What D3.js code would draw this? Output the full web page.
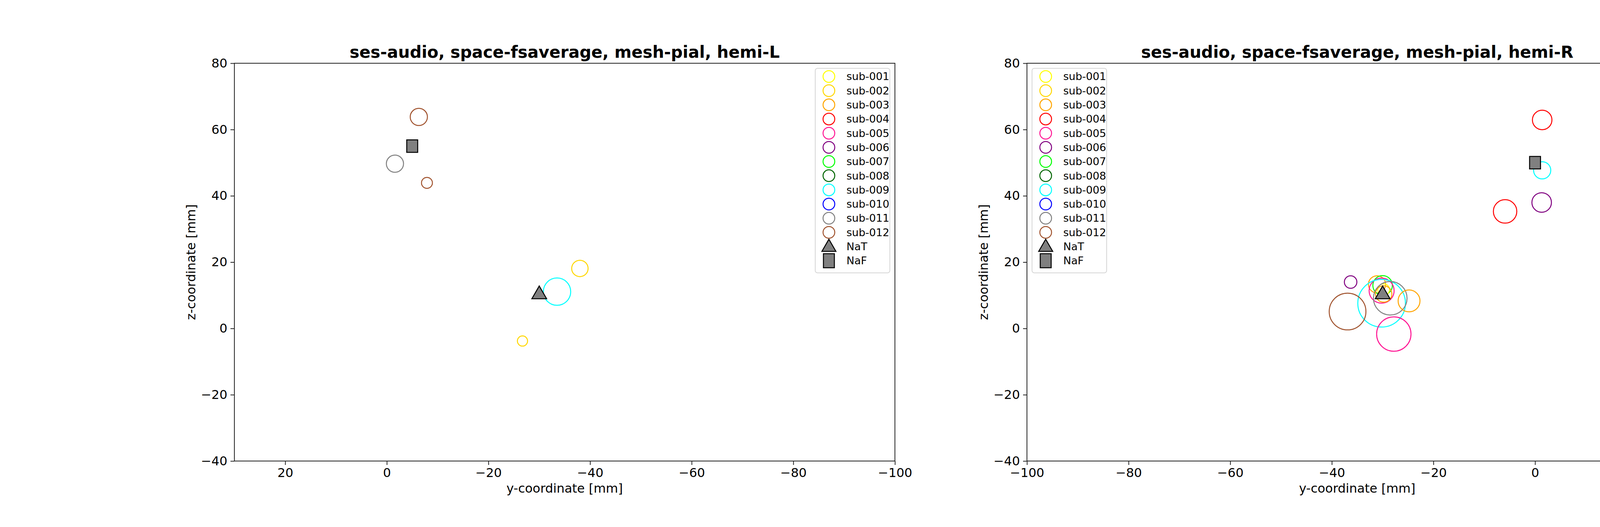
<!DOCTYPE html>
<html>
<head>
<meta charset="utf-8">
<script src="https://cdn.jsdelivr.net/npm/d3@7"></script>
<style>
  body { margin: 0; background: #fff; }
  text { font-family: "DejaVu Sans", sans-serif; }
</style>
</head>
<body>
<svg id="chart" width="4800" height="1350"></svg>
<script>
const subjects = ["sub-001", "sub-002", "sub-003", "sub-004", "sub-005", "sub-006",
                  "sub-007", "sub-008", "sub-009", "sub-010", "sub-011", "sub-012"];
const subjectColors = ["#ffff00", "#ffd700", "#ffa500", "#ff0000", "#ff1493", "#800080",
                       "#00ff00", "#006400", "#00ffff", "#0000ff", "#808080", "#a0522d"];

// left hemisphere: [subject, y, z, radius px]
const pointsL = [
  ["sub-012", -6.3, 63.8, 22],
  ["sub-011", -1.6, 49.7, 22],
  ["sub-012", -7.9, 43.9, 14],
  ["sub-002", -38.0, 18.1, 21],
  ["sub-009", -33.5, 11.1, 35],
  ["sub-002", -26.7, -3.8, 13]
];
// right hemisphere
const pointsR = [
  ["sub-004", 1.4, 62.9, 25],
  ["sub-009", 1.4, 47.7, 22],
  ["sub-006", 1.3, 38.0, 25],
  ["sub-004", -5.9, 35.3, 30],
  ["sub-006", -36.3, 14.0, 16],
  ["sub-003", -31.1, 13.3, 22],
  ["sub-007", -30.0, 13.0, 25],
  ["sub-005", -30.2, 11.4, 32],
  ["sub-001", -29.8, 11.7, 15],
  ["sub-003", -29.8, 10.4, 21],
  ["sub-009", -30.2, 7.6, 61],
  ["sub-011", -28.5, 9.1, 43],
  ["sub-003", -24.8, 8.3, 28],
  ["sub-012", -36.9, 5.1, 47],
  ["sub-005", -27.8, -1.7, 44]
];
const natL = [-30, 10], nafL = [-5, 55];
const natR = [-30, 10], nafR = [0, 50];

const xTicksL = [20, 0, -20, -40, -60, -80, -100];
const xTicksR = [-100, -80, -60, -40, -20, 0, 20];
const zTicks = [-40, -20, 0, 20, 40, 60, 80];

const svg = d3.select("#chart");
const plotTop = 162, plotBottom = 1181;
const color = d3.scaleOrdinal(subjects, subjectColors);
const fmt = d => d < 0 ? "\u2212" + Math.abs(d) : "" + d;

function panel(x0, x1, domain, xTicks, points, nat, naf, title, legendX) {
  const x = d3.scaleLinear().domain(domain).range([x0, x1]);
  const y = d3.scaleLinear().domain([-40, 80]).range([plotBottom, plotTop]);
  const g = svg.append("g");

  const xa = g.append("g").attr("transform", `translate(0,${plotBottom})`)
    .call(d3.axisBottom(x).tickValues(xTicks).tickFormat(fmt).tickSize(10).tickPadding(8));
  const ya = g.append("g").attr("transform", `translate(${x0},0)`)
    .call(d3.axisLeft(y).tickValues(zTicks).tickFormat(fmt).tickSize(10).tickPadding(8));
  [xa, ya].forEach(a => {
    a.selectAll("text").attr("font-size", 32).attr("font-family", "DejaVu Sans").attr("fill", "#000");
    a.selectAll("line").attr("stroke", "#222").attr("stroke-width", 2);
    a.select(".domain").remove();
  });

  g.selectAll("circle.pt").data(points).join("circle")
    .attr("cx", d => x(d[1])).attr("cy", d => y(d[2])).attr("r", d => d[3])
    .attr("fill", "none").attr("stroke", d => color(d[0])).attr("stroke-width", 2.5);

  const tri = d3.symbol().type(d3.symbolTriangle).size(620);
  g.append("path").attr("d", tri())
    .attr("transform", `translate(${x(nat[0])},${y(nat[1]) - 2})`)
    .attr("fill", "#808080").attr("stroke", "#000").attr("stroke-width", 2.5);
  g.append("rect").attr("x", x(naf[0]) - 14).attr("y", y(naf[1]) - 16)
    .attr("width", 28).attr("height", 32)
    .attr("fill", "#808080").attr("stroke", "#000").attr("stroke-width", 2.5);

  g.append("rect").attr("x", x0).attr("y", plotTop).attr("width", x1 - x0).attr("height", plotBottom - plotTop)
    .attr("fill", "none").attr("stroke", "#222").attr("stroke-width", 2);

  g.append("text").attr("x", (x0 + x1) / 2).attr("y", 148).attr("text-anchor", "middle")
    .attr("font-size", 42).attr("font-weight", "bold").text(title);
  g.append("text").attr("x", (x0 + x1) / 2).attr("y", 1262).attr("text-anchor", "middle")
    .attr("font-size", 32).text("y-coordinate [mm]");
  g.append("text").attr("transform", `translate(${x0 - 100},${(plotTop + plotBottom) / 2}) rotate(-90)`)
    .attr("text-anchor", "middle").attr("font-size", 32).text("z-coordinate [mm]");

  // legend
  const lg = g.append("g").attr("transform", `translate(${legendX},175)`);
  const entries = subjects.map(s => ({ label: s, kind: "circle" }))
    .concat([{ label: "NaT", kind: "tri" }, { label: "NaF", kind: "sq" }]);
  lg.append("rect").attr("width", 191).attr("height", 524).attr("rx", 6)
    .attr("fill", "#fff").attr("fill-opacity", 0.8).attr("stroke", "#d6d6d6").attr("stroke-width", 2);
  const row = lg.selectAll("g.row").data(entries).join("g")
    .attr("transform", (d, i) => `translate(35,${21 + i * 36.3})`);
  row.filter(d => d.kind === "circle").append("circle").attr("r", 15)
    .attr("fill", "none").attr("stroke", d => color(d.label)).attr("stroke-width", 2.5);
  row.filter(d => d.kind === "tri").append("path").attr("d", d3.symbol().type(d3.symbolTriangle).size(560)())
    .attr("transform", "translate(0,2)")
    .attr("fill", "#808080").attr("stroke", "#000").attr("stroke-width", 2.5);
  row.filter(d => d.kind === "sq").append("rect").attr("x", -14).attr("y", -18).attr("width", 28).attr("height", 36)
    .attr("fill", "#808080").attr("stroke", "#000").attr("stroke-width", 2.5);
  row.append("text").attr("x", 45).attr("dy", "0.35em").attr("font-size", 27).text(d => d.label);
}

panel(600, 2291, [30, -100], xTicksL, pointsL, natL, nafL,
      "ses-audio, space-fsaverage, mesh-pial, hemi-L", 2087);
panel(2629, 4320, [-100, 30], xTicksR, pointsR, natR, nafR,
      "ses-audio, space-fsaverage, mesh-pial, hemi-R", 2642);
</script>
</body>
</html>
